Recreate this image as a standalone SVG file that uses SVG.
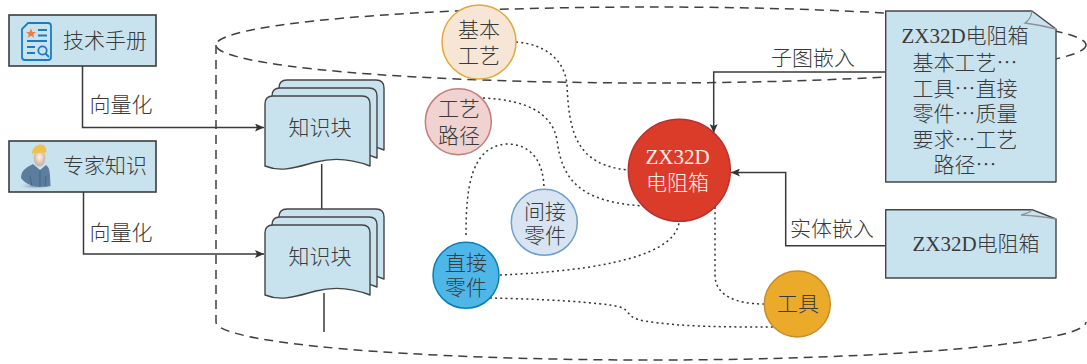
<svg xmlns="http://www.w3.org/2000/svg" xmlns:xlink="http://www.w3.org/1999/xlink" width="1087" height="364" viewBox="0 0 1087 364">
<style>
text{font-family:"Liberation Serif","Noto Sans CJK SC",serif;font-size:21px;font-weight:300;fill:#3a3a3a;text-anchor:middle}
.c{font-family:"Noto Sans CJK SC",sans-serif}
.w{fill:#fbeee6}
.box{fill:#c9e3ee;stroke:#3c3c3c;stroke-width:1.6}
.doc{fill:#c9e3ee;stroke:#444;stroke-width:1.4;stroke-linejoin:round}
.fold{fill:none;stroke:#8c9296;stroke-width:1.3}
.dash{fill:none;stroke:#3f3f3f;stroke-width:1.5;stroke-dasharray:9 6}
.dot{fill:none;stroke:#333;stroke-width:1.5;stroke-dasharray:2 3.2}
.line{fill:none;stroke:#3a3a3a;stroke-width:1.5}
.arr{marker-end:url(#a)}
.ib{fill:none;stroke:#1a7dc0;stroke-width:1.8}
</style>
<defs>
<marker id="a" markerUnits="userSpaceOnUse" markerWidth="9" markerHeight="8" refX="9" refY="4" orient="auto"><path d="M0,0L9,4L0,8L2,4Z" fill="#333"/></marker>
<path id="sheet" d="M265,166V104Q265,96 273,96H362Q370,96 370,104V166C352,159 335,157 316,162C297,167 282,173 265,166Z"/>
<g id="stack">
<use xlink:href="#sheet" href="#sheet" class="doc" transform="translate(14,-16)"/>
<use xlink:href="#sheet" href="#sheet" class="doc" transform="translate(7,-8)"/>
<use xlink:href="#sheet" href="#sheet" class="doc"/>
</g>
<radialGradient id="face" cx=".5" cy=".45" r=".6"><stop offset="0" stop-color="#fbf3ee"/><stop offset="1" stop-color="#c9a48f"/></radialGradient>
<radialGradient id="shadow"><stop offset="0" stop-color="#6b7f8c"/><stop offset="1" stop-color="#c9e3ee" stop-opacity="0"/></radialGradient>
</defs>

<g id="cylinder">
<ellipse class="dash" cx="651" cy="45" rx="435" ry="38"/>
<path class="dash" d="M216,45V322C216,343 411,360 651,360C891,360 1086,343 1086,322"/>
</g>

<g id="connectors">
<path class="line" d="M321.700,164V210"/>
<path class="line" d="M324,293V332"/>
<path class="line arr" d="M82.500,66V127.500H264"/>
<path class="line arr" d="M83.500,192V254H264"/>
<path class="line arr" d="M886,72H713.700V133"/>
<path class="line arr" d="M886,245.700H785.700V172.500H731"/>
<path class="dot" d="M516,42C545,44 565,60 567,85C569,130 575,165 628,170"/>
<path class="dot" d="M483,98C525,100 552,112 557,140C562,180 580,202 643,206"/>
<path class="dot" d="M466,235C466,190 470,146 507,144C530,144 544,160 544,190"/>
<path class="dot" d="M500,275C570,272 675,262 679,222"/>
<path class="dot" d="M715,207V275C715,295 735,304 764,304"/>
<path class="dot" d="M490,298C540,299 600,302 620,307C632,311 625,318 645,321C680,327 730,327 773,327"/>
</g>
<g id="labels">
<text class="c" x="121" y="112">向量化</text>
<text class="c" x="121" y="240">向量化</text>
<text class="c" x="813" y="65">子图嵌入</text>
<text class="c" x="832" y="236">实体嵌入</text>
</g>

<g id="n-manual">
<rect class="box" x="9" y="15" width="147" height="51"/>
<path class="ib" d="M28,23H48Q51,23 51,26V57Q51,60 48,60H25Q22,60 22,57V29Z"/>
<path d="M31,28.500L32.500,32H36L33.300,34.200L34.200,37.800L31,35.800L27.800,37.800L28.700,34.200L26,32H29.500Z" fill="#f07b45"/>
<path class="ib" d="M38,30H47M38,35.500H47M27,41H47M27,47H35M27,53H35"/>
<circle class="ib" cx="42.500" cy="50.500" r="4.200"/>
<path class="ib" d="M45.500,53.500L49,57"/>
<text class="c" x="105" y="48">技术手册</text>
</g>

<g id="n-expert">
<rect class="box" x="9" y="141" width="147" height="51"/>
<ellipse cx="36" cy="186" rx="19" ry="3.500" fill="url(#shadow)"/>
<path d="M21,178C21,170 27,167 33,164L40,170L46,165C50,168 50,172 50.500,186C42,188 27,187 21,178Z" fill="#5d7d9e"/>
<path d="M40,170V187M30,176L32,186M46,176L45,186" stroke="#476585" stroke-width="1" fill="none"/>
<ellipse cx="39.500" cy="158" rx="5.800" ry="8.500" fill="url(#face)"/>
<path d="M32,154C32,147 37,144.500 41,144.500C45,144.500 46.500,148 46.500,152.500L38,153C35,153 33,153.500 32,154Z" fill="#f0c04f"/>
<text class="c" x="105" y="173">专家知识</text>
</g>

<g id="n-block1">
<use xlink:href="#stack" href="#stack"/>
<text class="c" x="320" y="135">知识块</text>
</g>
<g id="n-block2">
<use xlink:href="#stack" href="#stack" transform="translate(0,129)"/>
<text class="c" x="320" y="264">知识块</text>
</g>

<g id="n-basic">
<circle cx="479" cy="42" r="37" fill="#f7e6d6" stroke="#e0a93a" stroke-width="1.500"/>
<text class="c" x="479" y="37">基本</text>
<text class="c" x="479" y="63">工艺</text>
</g>
<g id="n-route">
<circle cx="458.300" cy="121.700" r="33" fill="#f0d2d0" stroke="#c67d7a" stroke-width="1.500"/>
<text class="c" x="459" y="116">工艺</text>
<text class="c" x="459" y="143">路径</text>
</g>
<g id="n-indirect">
<circle cx="544.300" cy="222.300" r="33" fill="#d8e4f1" stroke="#6d9fcf" stroke-width="1.500"/>
<text class="c" x="545" y="219">间接</text>
<text class="c" x="545" y="243">零件</text>
</g>
<g id="n-direct">
<circle cx="466" cy="275.300" r="33" fill="#4fb7e8" stroke="#0a7fb5" stroke-width="1.500"/>
<text class="c" x="466" y="270">直接</text>
<text class="c" x="466" y="295">零件</text>
</g>
<g id="n-main">
<circle cx="679.300" cy="170.300" r="51" fill="#db3c2a" stroke="#b9302e" stroke-width="1.500"/>
<text class="w" x="677.500" y="164">ZX32D</text>
<text class="w" x="677.500" y="190">电阻箱</text>
</g>
<g id="n-tool">
<circle cx="797.300" cy="304" r="33" fill="#ebaa2a" stroke="#c48d30" stroke-width="1.500"/>
<text class="c" x="798" y="311">工具</text>
</g>

<g id="n-note1">
<path class="doc" d="M885.700,11H1032L1056,29V182H885.700Z"/>
<path class="fold" d="M1032,11Q1031,19 1025,23Q1040,25 1056,29"/>
<text x="965" y="43">ZX32D电阻箱</text>
<text class="c" x="965" y="70">基本工艺…</text>
<text class="c" x="965" y="96">工具…直接</text>
<text class="c" x="965" y="121">零件…质量</text>
<text class="c" x="965" y="147">要求…工艺</text>
<text class="c" x="965" y="172">路径…</text>
</g>
<g id="n-note2">
<path class="doc" d="M885.700,209.700H1032L1056,219V278H885.700Z"/>
<path class="fold" d="M1032,210Q1029,213 1021,215Q1040,216 1056,219"/>
<text x="976" y="251">ZX32D电阻箱</text>
</g>
</svg>
